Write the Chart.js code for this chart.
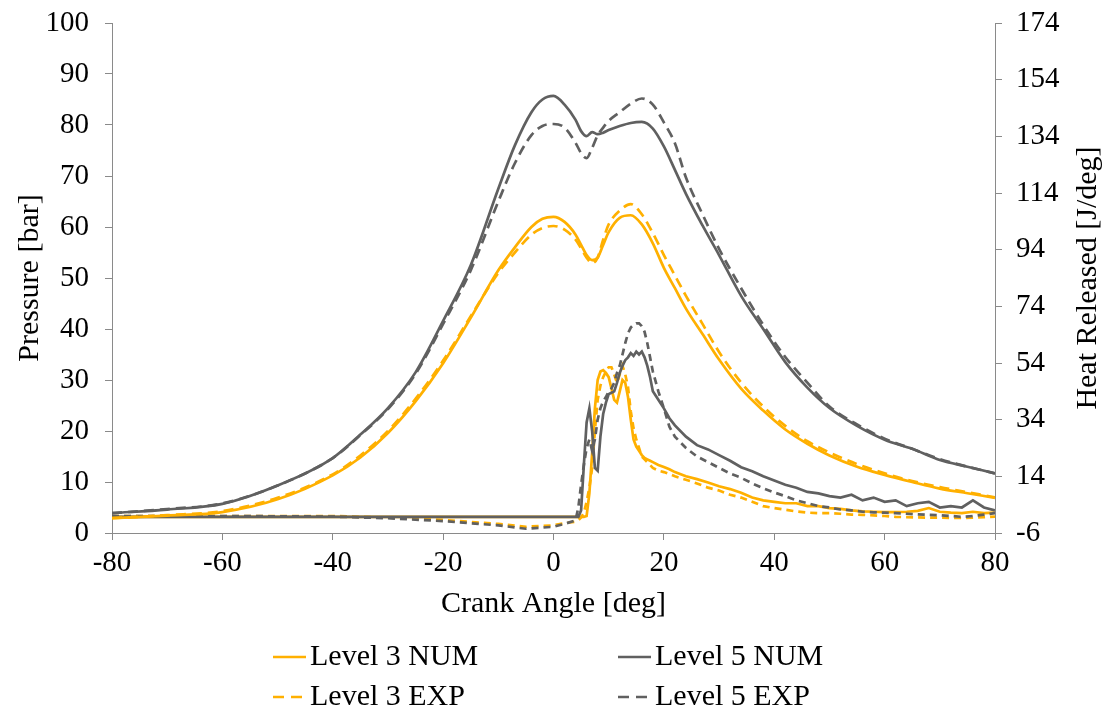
<!DOCTYPE html>
<html>
<head>
<meta charset="utf-8">
<script src="https://cdn.jsdelivr.net/npm/chart.js@4.4.0/dist/chart.umd.min.js"></script>
<style>
  html, body { margin: 0; padding: 0; background: #fff; }
</style>
</head>
<body>
<canvas id="grafico" width="1109" height="713"></canvas>
<script>
// presion en el cilindro [bar]
const pressureAngle = [-80,-70,-60,-50,-40,-35,-30,-25,-20,-15,-10,-7,-4,-2,0,2,4,5,6,7,8,9,10,12,14,16,18,20,22,24,27,30,34,38,42,46,50,55,60,65,70,75,80];
const level3NumPressure = [2.9,3.4,4.1,6.6,11.3,14.8,19.6,25.8,33.3,42.2,51.5,56,60,61.6,62,61,58.5,56.5,54.5,53.5,54,56.5,59,61.8,62.3,60.5,56.8,52,48,44,39,34,28.3,24,20.3,17.5,15.2,13,11.4,10,8.7,7.8,6.9];
const level3ExpPressure = [2.9,3.5,4.3,6.9,11.5,15.2,20,26.3,33.8,42.5,51,55,58.5,59.8,60.2,59.5,57.5,55.8,54,52.9,54,57.5,60.5,63.2,64.5,62.5,58.8,54.5,50.5,46.5,41,35.5,29.5,24.8,21,18,15.8,13.5,11.7,10.2,9,8,7];
const level5NumPressure = [3.9,4.6,5.7,9.3,14.7,19.3,24.5,31.5,41.6,52.5,67.5,76,82.5,85,85.7,84,81,78.8,77.8,78.6,78.2,78.5,79,79.8,80.4,80.6,79.3,75.8,71.2,66.5,60.3,54.5,46.5,40,33.5,28.5,24.5,21,18.3,16.5,14.3,13,11.7];
const level5ExpPressure = [3.9,4.7,5.8,9.3,14.7,19.2,24.3,31.2,41,51.5,65,72.5,78,79.8,80.2,79.5,76.5,74.5,73.5,75.5,78,79.5,80.8,82.5,84.2,85.2,84,80.5,76.4,69.7,62.5,55.7,48,40.8,34.5,29.5,24.8,21.3,18.5,16.5,14.5,13,11.7];

// calor liberado [J/deg]
const heatAngle = [-80,-60,-40,-30,-20,-10,-5,0,2,
  4,4.5,5,5.5,6,6.5,7,7.5,8,8.5,9,9.5,10,10.5,11,11.5,12,12.5,13,13.5,14,14.5,15,15.5,16,16.5,17,17.5,18,
  19,20,21,22,
  24,26,28,30,32,34,36,38,40,42,44,46,48,50,52,54,56,58,60,62,64,66,68,70,72,74,76,78,80];
const level3NumHeat = [-0.3,-0.3,-0.3,-0.3,-0.3,-0.3,-0.3,-0.3,-0.3,
  -0.3,-0.3,-0.3,-0.3,0,8,22,38,48,51,51.5,50.5,49,45,41,40,44,48,47,42,34,27,24.5,23,21.5,20.5,20,19.5,19,
  18,17.3,16.5,15.5,
  14,13,11.8,10.5,9.5,8.2,6.5,5.5,5,4.5,4.5,3.5,3.5,2.8,2.5,2,1.6,1.5,1.4,1.4,1.5,1.8,2.8,1.5,1.2,1,1.5,1,1.2];
const level3ExpHeat = [0,0,0,-0.6,-1.4,-2.8,-3.8,-3.3,-2.5,
  -2,-1.5,-0.5,1,5,10,17,30,41,46,49,51,52.5,52.5,50,47,50,53,50,45.5,37,31,27,24,21,20,19,18,17,
  16,15.5,14.8,14,
  12.8,11.5,10,9,7.5,6.5,5,3.5,2.8,2.2,1.6,1.2,1,1,0.8,0.5,0.4,0.2,0,-0.3,-0.4,-0.5,-0.6,-0.6,-0.7,-0.7,-0.6,-0.4,-0.2];
const level5NumHeat = [-0.3,-0.3,-0.3,-0.3,-0.3,-0.3,-0.3,-0.3,-0.3,
  -0.3,-0.3,2,18,33,38,30,17,16,28,36,40,43,43.5,44,47,50.5,53,55,56,57.5,56.5,58,57,58,56,53,49,44,
  41,38,34.5,32,
  28,25,23.5,21.5,19.5,17.2,15.8,14,12.5,11,10,8.5,8,7,6.5,7.5,5.5,6.5,5,5.5,3.5,4.5,5,3,3.5,3,5.5,3,2];
const level5ExpHeat = [0,0,-0.2,-0.8,-1.8,-3.3,-4.5,-3.8,-2.8,
  -1.5,3,11,18,24,27,23,27,34,38,40.5,42,44,45,47,50.5,53,57,61,64.5,66.5,67.5,68,68,67,65,61,56,51,
  44,38,31.5,28,
  24,21,19,17,15,13.5,11.5,9.8,8.3,7,5.5,4.5,3.5,3,2.3,2,1.5,1.3,1.2,1,0.8,0.6,0.4,0.3,0,-0.3,0,0.5,1];

const xTicks = [-80,-60,-40,-20,0,20,40,60,80];
const pressureTicks = [0,10,20,30,40,50,60,70,80,90,100];
const heatTicks = [-6,14,34,54,74,94,114,134,154,174];

const naranjo = '#FFB000';
const gris = '#606060';
const fuente = 'Liberation Serif, Times New Roman, serif';

function puntos(xs, ys) {
  return xs.map((x, i) => ({ x: x, y: ys[i] }));
}

function serie(label, xs, ys, color, dash, eje, suave) {
  return {
    label: label,
    data: puntos(xs, ys),
    borderColor: color,
    backgroundColor: color,
    borderWidth: 2.7,
    borderDash: dash,
    pointRadius: 0,
    fill: false,
    yAxisID: eje,
    cubicInterpolationMode: suave ? 'monotone' : 'default',
    tension: 0,
    enLeyenda: eje === 'y'
  };
}

// ancho fijo de los ejes verticales, sin margen extra arriba/abajo
function ajusteVertical(ancho) {
  return s => {
    s.width = ancho;
    s.paddingTop = 0;
    s.paddingBottom = 0;
  };
}

// leyenda en dos columnas y titulo del eje derecho
const extras = {
  id: 'extras',
  afterDraw(chart) {
    const ctx = chart.ctx;
    ctx.save();
    ctx.font = '30px ' + fuente;
    ctx.fillStyle = '#000';
    ctx.textBaseline = 'middle';
    ctx.textAlign = 'left';
    const items = chart.data.datasets.filter(d => d.enLeyenda);
    const orden = ['Level 3 NUM', 'Level 5 NUM', 'Level 3 EXP', 'Level 5 EXP'];
    const colX = [273, 618];
    const filaY = [657, 697];
    orden.forEach((nombre, i) => {
      const d = items.find(it => it.label === nombre);
      const x = colX[i % 2];
      const y = filaY[Math.floor(i / 2)];
      ctx.beginPath();
      ctx.strokeStyle = d.borderColor;
      ctx.lineWidth = 2.7;
      ctx.setLineDash(d.borderDash.length ? [11, 7] : []);
      ctx.moveTo(x, y);
      ctx.lineTo(x + 33, y);
      ctx.stroke();
      ctx.setLineDash([]);
      ctx.fillText(d.label, x + 37, y);
    });
    // titulo derecho, leido de abajo hacia arriba
    const area = chart.chartArea;
    ctx.translate(1088, (area.top + area.bottom) / 2);
    ctx.rotate(-Math.PI / 2);
    ctx.textAlign = 'center';
    ctx.fillText('Heat Released [J/deg]', 0, 0);
    ctx.restore();
  }
};

const ctx = document.getElementById('grafico').getContext('2d');
new Chart(ctx, {
  type: 'line',
  data: {
    datasets: [
      serie('Level 5 NUM', pressureAngle, level5NumPressure, gris, [], 'y', true),
      serie('Level 5 EXP', pressureAngle, level5ExpPressure, gris, [10, 6], 'y', true),
      serie('Level 3 NUM', pressureAngle, level3NumPressure, naranjo, [], 'y', true),
      serie('Level 3 EXP', pressureAngle, level3ExpPressure, naranjo, [10, 6], 'y', true),
      serie('Level 5 NUM', heatAngle, level5NumHeat, gris, [], 'y1', false),
      serie('Level 5 EXP', heatAngle, level5ExpHeat, gris, [7, 5], 'y1', false),
      serie('Level 3 NUM', heatAngle, level3NumHeat, naranjo, [], 'y1', false),
      serie('Level 3 EXP', heatAngle, level3ExpHeat, naranjo, [7, 5], 'y1', false)
    ]
  },
  options: {
    responsive: false,
    animation: false,
    devicePixelRatio: 1,
    layout: { padding: { top: 23, bottom: 87, left: 0, right: 0 } },
    plugins: {
      legend: { display: false },
      tooltip: { enabled: false }
    },
    scales: {
      x: {
        type: 'linear',
        min: -80,
        max: 80,
        afterBuildTicks: s => { s.ticks = xTicks.map(v => ({ value: v })); },
        afterFit: s => { s.height = 93; },
        border: { color: '#8a8a8a', width: 1 },
        grid: { drawOnChartArea: false, drawTicks: true, tickLength: 7, color: '#8a8a8a' },
        ticks: { color: '#000', padding: 6, maxRotation: 0, font: { family: fuente, size: 29 } },
        title: { display: true, text: 'Crank Angle [deg]', color: '#000', padding: { top: 4, bottom: 4 }, font: { family: fuente, size: 30 } }
      },
      y: {
        position: 'left',
        min: 0,
        max: 100,
        afterBuildTicks: s => { s.ticks = pressureTicks.map(v => ({ value: v })); },
        afterFit: ajusteVertical(112),
        border: { color: '#8a8a8a', width: 1 },
        grid: { drawOnChartArea: false, drawTicks: true, tickLength: 7, color: '#8a8a8a' },
        ticks: { color: '#000', padding: 16, font: { family: fuente, size: 29 } },
        title: { display: true, text: 'Pressure [bar]', color: '#000', padding: { top: 12, bottom: 12 }, font: { family: fuente, size: 30 } }
      },
      y1: {
        position: 'right',
        min: -6,
        max: 174,
        afterBuildTicks: s => { s.ticks = heatTicks.map(v => ({ value: v })); },
        afterFit: ajusteVertical(114),
        border: { color: '#8a8a8a', width: 1 },
        grid: { drawOnChartArea: false, drawTicks: true, tickLength: 7, color: '#8a8a8a' },
        ticks: { color: '#000', padding: 14, font: { family: fuente, size: 29 } }
      }
    }
  },
  plugins: [extras]
});
</script>
</body>
</html>
